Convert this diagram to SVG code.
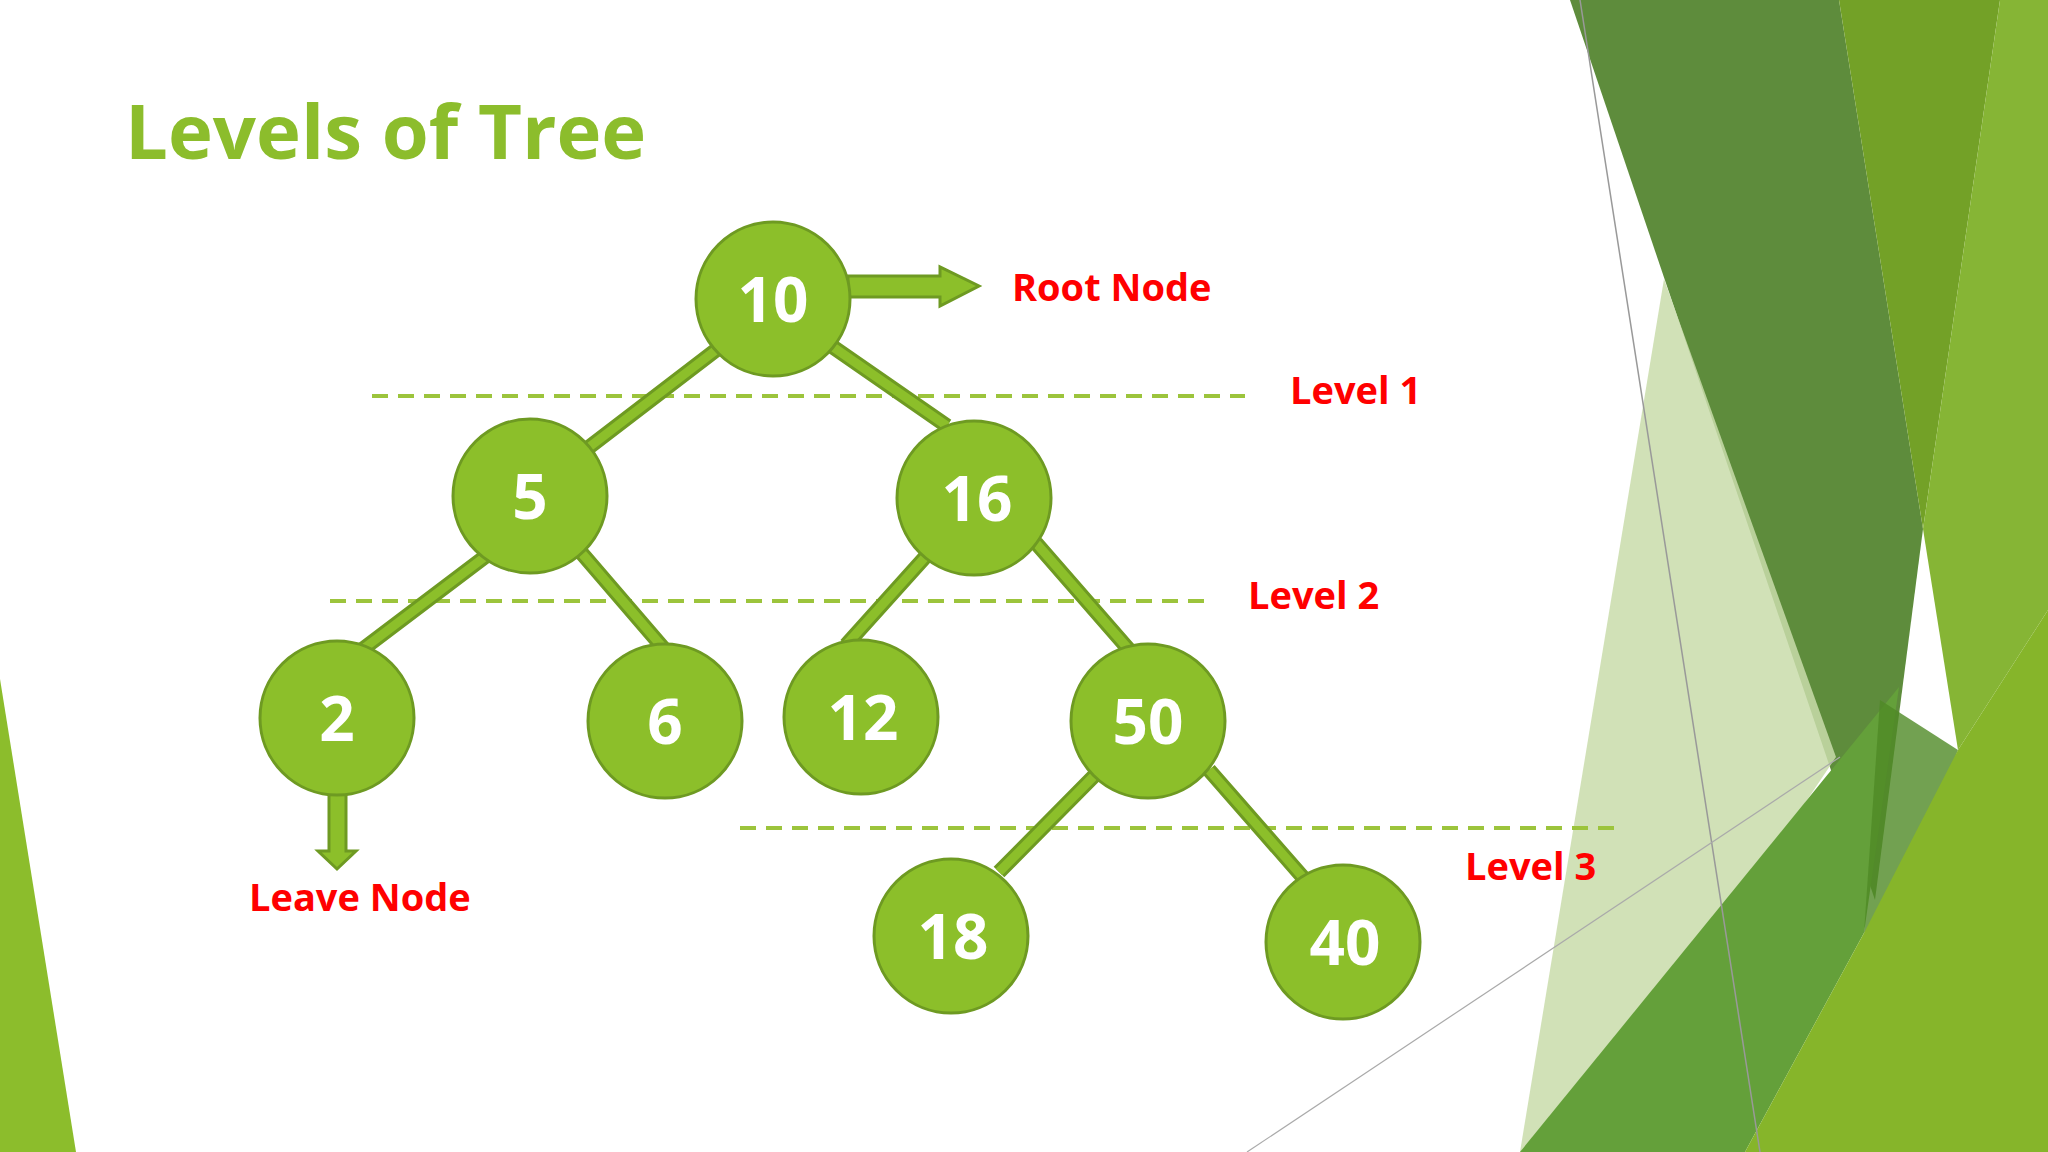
<svg xmlns="http://www.w3.org/2000/svg" width="2048" height="1152" viewBox="0 0 2048 1152">
<style>
.node circle{fill:#8cbf2a;stroke:#6e9a22;stroke-width:3}
.node text{fill:#fff;font-family:"Open Sans","DejaVu Sans",sans-serif;font-weight:bold;font-size:62px;text-anchor:middle}
.edge-o{stroke:#6e9a22;stroke-width:15;fill:none}
.edge-i{stroke:#8cbf2a;stroke-width:9;fill:none}
.dash{stroke:#9cc43c;stroke-width:4;stroke-dasharray:16 10;fill:none}
.lbl{fill:#ff0000;font-family:"Open Sans","DejaVu Sans",sans-serif;font-weight:bold;font-size:38px}
</style>
<rect width="2048" height="1152" fill="#fff"/>
<g id="background">
<polygon points="0,679 76,1152 0,1152" fill="#8cbd2c"/>
<polygon points="1570,0 1839,0 1923,529 1875,900" fill="#5e8c3c"/>
<polygon points="1839,0 2000,0 1923,529" fill="#73a127"/>
<polygon points="2000,0 2048,0 2048,610 1958,750 1923,529" fill="#86b535"/>
<polygon points="1664,279 1836,757 1570,1152 1520,1152" fill="#c9dcaa" opacity="0.85"/>
<polygon points="1520,1152 1899,687 1864,933 1745,1152" fill="#64a03a"/>
<polygon points="1880,700 1958,750 1900,900 1864,933" fill="#4f8a26" opacity="0.8"/>
<polygon points="1745,1152 1864,933 1958,750 2048,610 2048,1152" fill="#86b52a"/>
<line x1="1580" y1="0" x2="1760" y2="1152" stroke="#999" stroke-width="1.5"/>
<line x1="1247" y1="1152" x2="1840" y2="757" stroke="#aaa" stroke-width="1.2"/>
</g>
<text x="125" y="159" font-family="Open Sans,DejaVu Sans,sans-serif" font-weight="bold" font-size="76" fill="#8cbd2c">Levels of Tree</text>
<g id="levels">
<line class="dash" x1="372" y1="396" x2="1245" y2="396"/>
<line class="dash" x1="330" y1="601" x2="1204" y2="601"/>
<line class="dash" x1="740" y1="828" x2="1617" y2="828"/>
</g>
<g id="connectors">
<path class="edge-o" d="M716,350L588,448M833,347L947,426M486,556L363,649M579,550L665,650M927,555L846,645M1036,543L1131,652M1094,776L999,872M1209,770L1307,882"/>
<path class="edge-i" d="M716,350L588,448M833,347L947,426M486,556L363,649M579,550L665,650M927,555L846,645M1036,543L1131,652M1094,776L999,872M1209,770L1307,882"/>
<polygon points="848,276 940,276 940,267 979,286 940,306 940,297 848,297" fill="#8cbf2a" stroke="#6e9a22" stroke-width="3"/>
<polygon points="329,792 346,792 346,851 356,851 337,869 318,851 329,851" fill="#8cbf2a" stroke="#6e9a22" stroke-width="3"/>
</g>
<g id="n10" class="node"><circle cx="773" cy="299" r="77"/><text x="773" y="322">10</text></g>
<g id="n5" class="node"><circle cx="530" cy="496" r="77"/><text x="530" y="519">5</text></g>
<g id="n16" class="node"><circle cx="974" cy="498" r="77"/><text x="977" y="521">16</text></g>
<g id="n2" class="node"><circle cx="337" cy="718" r="77"/><text x="337" y="741">2</text></g>
<g id="n6" class="node"><circle cx="665" cy="721" r="77"/><text x="665" y="744">6</text></g>
<g id="n12" class="node"><circle cx="861" cy="717" r="77"/><text x="863" y="740">12</text></g>
<g id="n50" class="node"><circle cx="1148" cy="721" r="77"/><text x="1148" y="744">50</text></g>
<g id="n18" class="node"><circle cx="951" cy="936" r="77"/><text x="953" y="959">18</text></g>
<g id="n40" class="node"><circle cx="1343" cy="942" r="77"/><text x="1345" y="965">40</text></g>
<g id="labels">
<text class="lbl" x="1012" y="301">Root Node</text>
<text class="lbl" x="1290" y="404">Level 1</text>
<text class="lbl" x="1248" y="609">Level 2</text>
<text class="lbl" x="1465" y="880">Level 3</text>
<text class="lbl" x="249" y="911">Leave Node</text>
</g>
</svg>
